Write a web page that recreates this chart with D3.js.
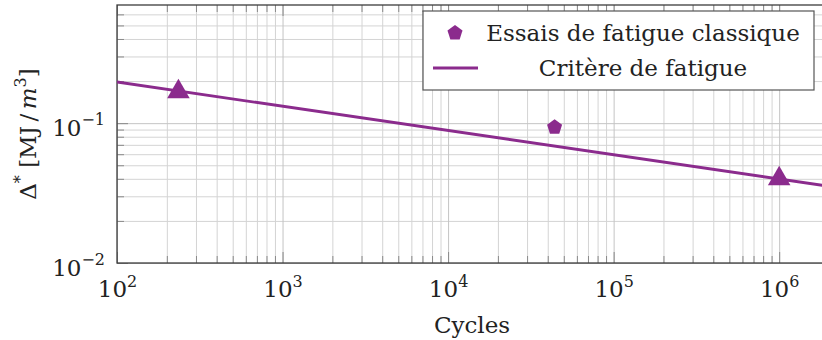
<!DOCTYPE html>
<html>
<head>
<meta charset="utf-8">
<script src="https://cdn.jsdelivr.net/npm/d3@7"></script>
<style>
  body { margin: 0; background: #fff; }
  text { font-family: "DejaVu Serif", serif; fill: #222; }
</style>
</head>
<body>
<div id="viz"></div>
<script>
const width = 822;
const height = 340;
const margin = {top: 5, left: 117, bottom: 77};
const plotRight = 829; // right edge of the axis box falls just past the page

// axis ranges and ticks
const xDomain = [1e2, 2e6];
const yDomain = [1e-2, 0.7];
const xTicks = [1e2, 1e3, 1e4, 1e5, 1e6];
const yTicks = [1e-2, 1e-1];

// classical fatigue tests (pentagon)
const essaisCycles = [44000];
const essaisDelta = [0.0935];

// fatigue criterion points (triangles)
const pointsCycles = [235, 1e6];
const pointsDelta = [0.168, 0.040];

// fatigue criterion line
const critereCycles = [1e2, 2e6];
const critereDelta = [0.197, 0.0354];

const purple = '#8b2b8d';

const x = d3.scaleLog().domain(xDomain).range([margin.left, plotRight]);
const y = d3.scaleLog().domain(yDomain).range([height - margin.bottom, margin.top]);
const bottom = height - margin.bottom;
const plotH = bottom - margin.top;
const plotW = plotRight - margin.left;

// minor tick values : 2..9 in each decade inside the domain
const minorOf = (dom) => {
  const out = [];
  for (let e = Math.floor(Math.log10(dom[0])); e <= Math.ceil(Math.log10(dom[1])); e++) {
    for (let k = 2; k <= 9; k++) {
      const v = k * Math.pow(10, e);
      if (v > dom[0] && v < dom[1]) out.push(v);
    }
  }
  return out;
};
const xMinor = minorOf(xDomain);
const yMinor = minorOf(yDomain);

const svg = d3.select('#viz')
  .append('svg')
    .attr('width', width)
    .attr('height', height);

// Grid
const grid = (axis, tf, vals, size, color) => {
  const g = svg.append('g')
    .attr('transform', tf)
    .call(axis.tickValues(vals).tickSize(size).tickFormat(''));
  g.select('.domain').remove();
  g.selectAll('line').attr('stroke', color).attr('stroke-width', 1);
  return g;
};
grid(d3.axisBottom(x), `translate(0,${bottom})`, xMinor, -plotH, '#d4d4d4');
grid(d3.axisLeft(y), `translate(${margin.left},0)`, yMinor, -plotW, '#d4d4d4');
grid(d3.axisBottom(x), `translate(0,${bottom})`, xTicks, -plotH, '#c4c4c4');
grid(d3.axisLeft(y), `translate(${margin.left},0)`, yTicks, -plotW, '#c4c4c4');

// Tick marks (inside, on all sides)
const tickCol = '#8a8a8a';
grid(d3.axisBottom(x), `translate(0,${bottom})`, xMinor, -7, tickCol);
grid(d3.axisBottom(x), `translate(0,${bottom})`, xTicks, -11, tickCol);
grid(d3.axisTop(x), `translate(0,${margin.top})`, xMinor, -7, tickCol);
grid(d3.axisTop(x), `translate(0,${margin.top})`, xTicks, -11, tickCol);
grid(d3.axisLeft(y), `translate(${margin.left},0)`, yMinor, -7, tickCol);
grid(d3.axisLeft(y), `translate(${margin.left},0)`, yTicks, -11, tickCol);

// Frame
svg.append('rect')
  .attr('x', margin.left).attr('y', margin.top)
  .attr('width', plotW).attr('height', plotH)
  .attr('fill', 'none').attr('stroke', '#3c3c3c').attr('stroke-width', 1.3);

// tick labels as 10^n
const powerLabel = (sel) => {
  sel.each(function(d) {
    const t = d3.select(this).text('');
    const e = Math.round(Math.log10(d));
    t.append('tspan').text('10');
    t.append('tspan')
      .attr('dy', -10.5)
      .style('font-size', '16px')
      .text(e < 0 ? '\u2212' + (-e) : String(e));
  });
};

const xLab = svg.append('g')
  .attr('transform', `translate(0,${bottom})`)
  .call(d3.axisBottom(x).tickValues(xTicks).tickSize(0).tickFormat(d => d));
xLab.select('.domain').remove();
xLab.selectAll('text')
  .attr('y', 34).attr('dy', null)
  .style('font-size', '23px')
  .attr('font-family', null)
  .call(powerLabel);

const yLab = svg.append('g')
  .attr('transform', `translate(${margin.left},0)`)
  .call(d3.axisLeft(y).tickValues(yTicks).tickSize(0).tickFormat(d => d));
yLab.select('.domain').remove();
yLab.selectAll('text')
  .attr('x', -12).attr('dy', null).attr('y', 12)
  .style('font-size', '23px')
  .attr('font-family', null)
  .call(powerLabel);

// Axis titles
svg.append('text')
  .attr('x', (margin.left + plotRight) / 2 - 1)
  .attr('y', 333)
  .attr('text-anchor', 'middle')
  .style('font-size', '23px')
  .text('Cycles');

const yTitle = svg.append('text')
  .attr('transform', `translate(36, ${134}) rotate(-90)`)
  .attr('text-anchor', 'middle')
  .style('font-size', '23px');
yTitle.append('tspan').text('\u0394');
yTitle.append('tspan').attr('dy', -10).style('font-size', '16px').text('*');
yTitle.append('tspan').attr('dy', 10).text(' [MJ\u2009/\u2009');
yTitle.append('tspan').style('font-style', 'italic').text('m');
yTitle.append('tspan').attr('dy', -10).style('font-size', '16px').text('3');
yTitle.append('tspan').attr('dy', 10).text(']');

// Clip to plot box
svg.append('clipPath').attr('id', 'clip')
  .append('rect')
  .attr('x', margin.left).attr('y', margin.top)
  .attr('width', plotW).attr('height', plotH);

// Criterion line
const critere = critereCycles.map((c, i) => ({c, d: critereDelta[i]}));
const line = d3.line().x(d => x(d.c)).y(d => y(d.d));
svg.append('path')
  .datum(critere)
  .attr('clip-path', 'url(#clip)')
  .attr('d', line)
  .attr('fill', 'none')
  .attr('stroke', purple)
  .attr('stroke-width', 2.9);

// Triangles
const pts = pointsCycles.map((c, i) => ({c, d: pointsDelta[i]}));
svg.append('g')
  .selectAll('path')
  .data(pts)
  .join('path')
    .attr('transform', d => `translate(${x(d.c)},${y(d.d)})`)
    .attr('d', d3.symbol(d3.symbolTriangle, 220))
    .attr('fill', purple);

// Pentagon markers
const pentagon = (r) => {
  const p = d3.range(5).map(i => {
    const a = -Math.PI / 2 + i * 2 * Math.PI / 5;
    return [r * Math.cos(a), r * Math.sin(a)];
  });
  return d3.line()(p) + 'Z';
};
const essais = essaisCycles.map((c, i) => ({c, d: essaisDelta[i]}));
svg.append('g')
  .selectAll('path')
  .data(essais)
  .join('path')
    .attr('transform', d => `translate(${x(d.c)},${y(d.d)})`)
    .attr('d', pentagon(7.9))
    .attr('fill', purple);

// Legend
const legend = svg.append('g');
legend.append('rect')
  .attr('x', 423).attr('y', 11)
  .attr('width', 391).attr('height', 79)
  .attr('fill', '#fff')
  .attr('stroke', '#555').attr('stroke-width', 1.2);
legend.append('path')
  .attr('transform', 'translate(455,33)')
  .attr('d', pentagon(7.9))
  .attr('fill', purple);
legend.append('line')
  .attr('x1', 433).attr('x2', 478)
  .attr('y1', 68).attr('y2', 68)
  .attr('stroke', purple).attr('stroke-width', 2.9);
legend.append('text')
  .attr('x', 643).attr('y', 41)
  .attr('text-anchor', 'middle')
  .style('font-size', '23px')
  .text('Essais de fatigue classique');
legend.append('text')
  .attr('x', 643).attr('y', 76)
  .attr('text-anchor', 'middle')
  .style('font-size', '23px')
  .text('Critère de fatigue');
</script>
</body>
</html>
